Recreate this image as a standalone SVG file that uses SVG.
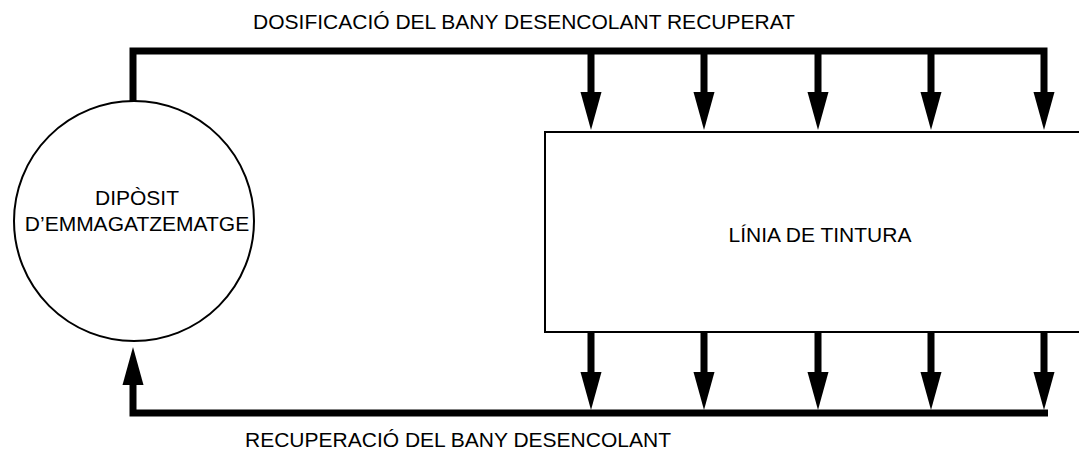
<svg xmlns="http://www.w3.org/2000/svg" xmlns:xlink="http://www.w3.org/1999/xlink" width="1079" height="450" viewBox="0 0 1079 450">
<style>
.lbl{font-family:"Liberation Sans",Arial,sans-serif;font-size:21px;fill:#000}
.pipe{fill:none;stroke:#000;stroke-width:7;stroke-linecap:butt;stroke-linejoin:miter}
.node{fill:#fff;stroke:#000;stroke-width:2}
</style>
<defs>
<path id="ahd" d="M-10.5,0 L10.5,0 L0,38 Z" fill="#000"/>
</defs>
<rect width="1079" height="450" fill="#fff"/>
<g id="connectors">
<path class="pipe" d="M133,101 V51 H1044 V92"/>
<path class="pipe" d="M591,51 V92 M704,51 V92 M818,51 V92 M931,51 V92"/>
<use xlink:href="#ahd" x="591" y="92"/>
<use xlink:href="#ahd" x="704" y="92"/>
<use xlink:href="#ahd" x="818" y="92"/>
<use xlink:href="#ahd" x="931" y="92"/>
<use xlink:href="#ahd" x="1044" y="92"/>
<path class="pipe" d="M591,333 V373 M704,333 V373 M818,333 V373 M931,333 V373 M1044,333 V373"/>
<use xlink:href="#ahd" x="591" y="372"/>
<use xlink:href="#ahd" x="704" y="372"/>
<use xlink:href="#ahd" x="818" y="372"/>
<use xlink:href="#ahd" x="931" y="372"/>
<use xlink:href="#ahd" x="1044" y="372"/>
<path class="pipe" d="M1048,413 H133 V383"/>
<path d="M122.5,385 L143.5,385 L133,347 Z" fill="#000"/>
</g>
<g id="diposit">
<circle class="node" cx="134" cy="221" r="120"/>
<text class="lbl" x="137" y="205" text-anchor="middle">DIPÒSIT</text>
<text class="lbl" x="137" y="231" text-anchor="middle">D’EMMAGATZEMATGE</text>
</g>
<g id="linia">
<rect class="node" x="545" y="132" width="540" height="200" stroke-width="1.5"/>
<text class="lbl" x="820" y="242" text-anchor="middle">LÍNIA DE TINTURA</text>
</g>
<g id="labels">
<text class="lbl" x="524" y="29" text-anchor="middle">DOSIFICACIÓ DEL BANY DESENCOLANT RECUPERAT</text>
<text class="lbl" x="458" y="447" text-anchor="middle">RECUPERACIÓ DEL BANY DESENCOLANT</text>
</g>
</svg>
